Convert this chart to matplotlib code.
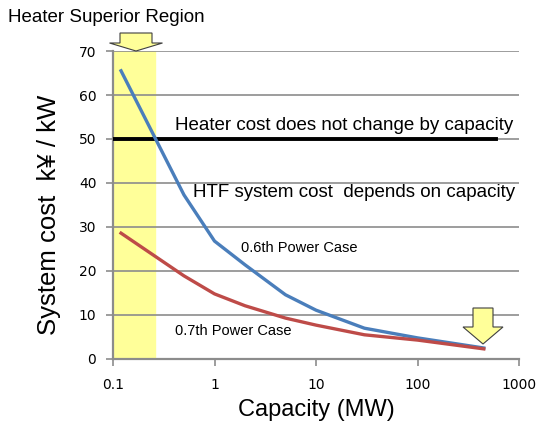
import matplotlib
matplotlib.use("Agg")
from matplotlib import pyplot as plt
from matplotlib.patches import Polygon
import numpy as np

# capacity (MW) and system cost (k yen / kW)
capacity = [0.12, 0.5, 1, 2, 5, 10, 30, 100, 450]
cost_06 = [65.5, 37.3, 26.8, 21.4, 14.6, 11.1, 7.0, 4.8, 2.5]
cost_07 = [28.6, 18.9, 14.8, 12.1, 9.3, 7.7, 5.5, 4.3, 2.3]
heater_cost = 50
heater_range = [0.1, 600]
superior_region = [0.1, 0.26]
x_ticks = [0.1, 1, 10, 100, 1000]
x_labels = ["0.1", "1", "10", "100", "1000"]
y_ticks = [0, 10, 20, 30, 40, 50, 60, 70]

W, H = 539, 428
fig = plt.figure(figsize=(W / 100, H / 100), dpi=100)
ax = fig.add_axes([113 / W, 1 - 359 / H, (519 - 113) / W, (359 - 51) / H])

sans = ["Liberation Sans", "DejaVu Sans"]
grey = "#8c8c8c"

ax.axvspan(superior_region[0], superior_region[1], color="#ffff99", zorder=0)
ax.set_xscale("log")
ax.set_xlim(0.1, 1000)
ax.set_ylim(0, 70)
ax.yaxis.grid(True, color=grey, linewidth=1.2, zorder=1)
ax.set_axisbelow(True)

ax.plot(heater_range, [heater_cost, heater_cost], color="black", linewidth=2.8, zorder=3)
ax.plot(capacity, cost_06, color="#4a7ebb", linewidth=2.4, zorder=4)
ax.plot(capacity, cost_07, color="#be4b48", linewidth=2.4, zorder=4)

for s in ["top", "right"]:
    ax.spines[s].set_visible(False)
for s in ["left", "bottom"]:
    ax.spines[s].set_color(grey)
    ax.spines[s].set_linewidth(1.6)

ax.set_xticks(x_ticks)
ax.set_xticklabels(x_labels)
ax.xaxis.set_minor_locator(matplotlib.ticker.NullLocator())
ax.set_yticks(y_ticks)
ax.tick_params(axis="both", colors=grey, labelcolor="black", labelsize=10,
               length=5, width=1.2, direction="out")
ax.tick_params(axis="x", pad=9)
ax.tick_params(axis="y", pad=7)

ax.set_xlabel("Capacity (MW)", fontsize=17, family=sans, labelpad=5)
ax.set_ylabel("System cost  k\u00a5 / kW", fontsize=18.5, family=sans)
ax.yaxis.set_label_coords(-0.128, 0.468)

fig.text(8 / W, 1 - 17 / H, "Heater Superior Region", fontsize=13.5, family=sans, va="center")
fig.text(175 / W, 1 - 126 / H, "Heater cost does not change by capacity", fontsize=13.5,
         family=sans, va="center")
fig.text(193 / W, 1 - 192 / H, "HTF system cost  depends on capacity", fontsize=13.5,
         family=sans, va="center")
fig.text(241 / W, 1 - 248 / H, "0.6th Power Case", fontsize=10.5, family=sans, va="center")
fig.text(175 / W, 1 - 331 / H, "0.7th Power Case", fontsize=10.5, family=sans, va="center")


def down_arrow(cx, top, neck, tip, shaft_w, head_w):
    pts = [(cx - shaft_w / 2, top), (cx + shaft_w / 2, top), (cx + shaft_w / 2, neck),
           (cx + head_w / 2, neck), (cx, tip), (cx - head_w / 2, neck),
           (cx - shaft_w / 2, neck)]
    pts = [(x / W, 1 - y / H) for x, y in pts]
    fig.patches.append(Polygon(pts, closed=True, transform=fig.transFigure,
                               facecolor="#ffff99", edgecolor="#404040", linewidth=0.8,
                               zorder=5))


down_arrow(136, 33, 43, 51, 32, 53)
down_arrow(483, 308, 327, 344, 20, 40)

fig.savefig("out.png", dpi=100)
